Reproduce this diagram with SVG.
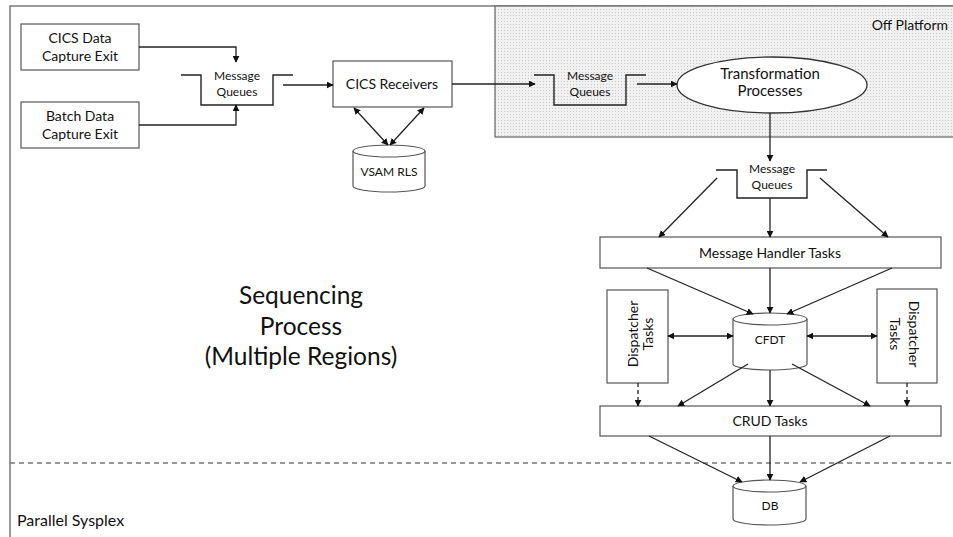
<svg xmlns="http://www.w3.org/2000/svg" width="953" height="537" viewBox="0 0 953 537">
<style>
.box{fill:#fff;stroke:#555;stroke-width:1.2}
.ln{fill:none;stroke:#222;stroke-width:1.3}
.q{fill:none;stroke:#222;stroke-width:1.4}
.t{font-family:Lato,"Liberation Sans",sans-serif;fill:#111;text-anchor:middle}
.s{font-size:12px}
.m{font-size:14px}
.ar{marker-end:url(#ah)}
.da{marker-start:url(#ahs);marker-end:url(#ah)}
</style>
<defs>
<marker id="ah" viewBox="0 0 10 10" refX="9" refY="5" markerWidth="7" markerHeight="7" markerUnits="userSpaceOnUse" orient="auto"><path d="M0,0 L10,5 L0,10 z" fill="#111"/></marker>
<marker id="ahs" viewBox="0 0 10 10" refX="1" refY="5" markerWidth="7" markerHeight="7" markerUnits="userSpaceOnUse" orient="auto"><path d="M10,0 L0,5 L10,10 z" fill="#111"/></marker>
<pattern id="dots" width="3" height="3" patternUnits="userSpaceOnUse"><rect width="3" height="3" fill="#f1f1f1"/><rect width="1" height="1" fill="#c8c8c8"/></pattern>
</defs>
<rect width="953" height="537" fill="#fff"/>
<g id="frame">
<path d="M960,6 H10 V540" fill="none" stroke="#7a7a7a" stroke-width="1.5"/>
<line x1="10" y1="463" x2="953" y2="463" stroke="#777" stroke-width="1.3" stroke-dasharray="5,4"/>
<text class="t" x="17" y="526" style="text-anchor:start;font-size:16px">Parallel Sysplex</text>
</g>
<g id="off-platform">
<rect x="495" y="6" width="470" height="131" fill="url(#dots)" stroke="#666" stroke-width="1.2"/>
<text class="t" x="948" y="30" style="text-anchor:end;font-size:14px">Off Platform</text>
</g>
<g id="sequencing-label">
<text class="t" x="301" y="304" font-size="24.5">Sequencing</text>
<text class="t" x="301" y="335" font-size="24.5">Process</text>
<text class="t" x="301" y="365" font-size="24.5">(Multiple Regions)</text>
</g>
<g id="cics-exit">
<rect class="box" x="21" y="24" width="118" height="46"/>
<text class="t m" x="80" y="43">CICS Data</text>
<text class="t m" x="80" y="61">Capture Exit</text>
</g>
<g id="batch-exit">
<rect class="box" x="21" y="102" width="118" height="46"/>
<text class="t m" x="80" y="121">Batch Data</text>
<text class="t m" x="80" y="139">Capture Exit</text>
</g>
<g id="mq1">
<path class="q" d="M181,75 H201 V105 H273 V75 H293"/>
<text class="t s" x="237" y="80">Message</text>
<text class="t s" x="237" y="96">Queues</text>
</g>
<g id="cics-receivers">
<rect class="box" x="333" y="61" width="119" height="46"/>
<text class="t m" x="392" y="89">CICS Receivers</text>
</g>
<g id="vsam">
<path class="box" d="M353,151 A36,6 0 0 1 425,151 V186 A36,6 0 0 1 353,186 Z"/>
<path class="box" d="M353,151 A36,6 0 0 0 425,151"/>
<text class="t s" x="389" y="176">VSAM RLS</text>
</g>
<g id="mq2">
<path class="q" d="M534,75 H554 V105 H626 V75 H646"/>
<text class="t s" x="590" y="80">Message</text>
<text class="t s" x="590" y="96">Queues</text>
</g>
<g id="transformation">
<ellipse cx="772" cy="85" rx="95" ry="28" fill="#fff" stroke="#333" stroke-width="1.3"/>
<text class="t" x="770" y="79" font-size="15">Transformation</text>
<text class="t" x="770" y="96" font-size="15">Processes</text>
</g>
<g id="mq3">
<path class="q" d="M716,170 H737 V198 H807 V170 H827"/>
<text class="t s" x="772" y="173">Message</text>
<text class="t s" x="772" y="189">Queues</text>
</g>
<g id="message-handler">
<rect class="box" x="600" y="237" width="341" height="31"/>
<text class="t m" x="770" y="258">Message Handler Tasks</text>
</g>
<g id="cfdt">
<path class="box" d="M733,319 A37,6 0 0 1 807,319 V364 A37,6 0 0 1 733,364 Z"/>
<path class="box" d="M733,319 A37,6 0 0 0 807,319"/>
<text class="t s" x="770" y="344">CFDT</text>
</g>
<g id="dispatcher-left">
<rect class="box" x="607" y="290" width="61" height="93"/>
<text class="t m" transform="translate(637,334) rotate(-90)" x="0" y="1">Dispatcher</text>
<text class="t m" transform="translate(637,334) rotate(-90)" x="0" y="16">Tasks</text>
</g>
<g id="dispatcher-right">
<rect class="box" x="877" y="289" width="60" height="94"/>
<text class="t m" transform="translate(907,334) rotate(90)" x="0" y="-2">Dispatcher</text>
<text class="t m" transform="translate(907,334) rotate(90)" x="0" y="17">Tasks</text>
</g>
<g id="crud">
<rect class="box" x="600" y="406" width="341" height="30"/>
<text class="t m" x="770" y="426">CRUD Tasks</text>
</g>
<g id="db">
<path class="box" d="M733,486 A36.5,6 0 0 1 806,486 V519 A36.5,6 0 0 1 733,519 Z"/>
<path class="box" d="M733,486 A36.5,6 0 0 0 806,486"/>
<text class="t s" x="770" y="510">DB</text>
</g>
<g id="connectors">
<path class="ln ar" d="M139,47 H236 V62"/>
<path class="ln ar" d="M139,125 H236 V105"/>
<line class="ln ar" x1="283" y1="85" x2="333" y2="85"/>
<line class="ln da" x1="354" y1="108" x2="388" y2="145"/>
<line class="ln da" x1="424" y1="108" x2="390" y2="145"/>
<line class="ln ar" x1="452" y1="84" x2="535" y2="84"/>
<line class="ln ar" x1="637" y1="84" x2="677" y2="84"/>
<line class="ln ar" x1="770" y1="113" x2="770" y2="161"/>
<line class="ln ar" x1="717" y1="178" x2="659" y2="237"/>
<line class="ln ar" x1="770" y1="198" x2="770" y2="237"/>
<line class="ln ar" x1="820" y1="178" x2="888" y2="237"/>
<line class="ln ar" x1="647" y1="268" x2="753" y2="314"/>
<line class="ln ar" x1="770" y1="268" x2="770" y2="313"/>
<line class="ln ar" x1="892" y1="268" x2="787" y2="314"/>
<line class="ln da" x1="668" y1="336" x2="733" y2="336"/>
<line class="ln da" x1="807" y1="336" x2="877" y2="336"/>
<line class="ln ar" x1="748" y1="364" x2="678" y2="406"/>
<line class="ln ar" x1="770" y1="370" x2="770" y2="406"/>
<line class="ln ar" x1="792" y1="364" x2="870" y2="406"/>
<line class="ln ar" x1="638" y1="383" x2="638" y2="406" stroke-dasharray="4,3"/>
<line class="ln ar" x1="907" y1="383" x2="907" y2="406" stroke-dasharray="4,3"/>
<line class="ln ar" x1="649" y1="436" x2="742" y2="482"/>
<line class="ln ar" x1="770" y1="436" x2="770" y2="480"/>
<line class="ln ar" x1="890" y1="436" x2="800" y2="482"/>
</g>
</svg>
